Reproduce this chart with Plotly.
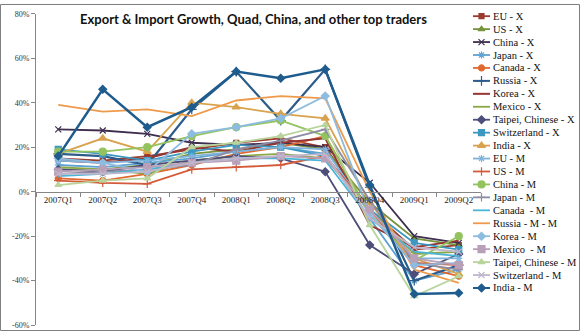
import plotly.graph_objects as go

W, H = 580, 336

QUARTERS = ["2007Q1", "2007Q2", "2007Q3", "2007Q4", "2008Q1", "2008Q2",
            "2008Q3", "2008Q4", "2009Q1", "2009Q2"]

Y_TICK_VALUES = [-60, -40, -20, 0, 20, 40, 60, 80]
Y_TICK_LABELS = ["-60%", "-40%", "-20%", "0%", "20%", "40%", "60%", "80%"]

SERIES_NAMES = ["EU - X", "US - X", "China - X", "Japan - X", "Canada - X",
                "Russia - X", "Korea - X", "Mexico - X", "Taipei, Chinese - X",
                "Switzerland - X", "India - X", "EU - M", "US - M", "China - M",
                "Japan - M", "Canada  - M", "Russia - M - M", "Korea - M",
                "Mexico  - M", "Taipei, Chinese - M", "Switzerland - M", "India - M"]

# growth rates in percent, one list per series
EU_X = [15, 14, 16, 19, 22, 24, 20, -8, -26, -24]
US_X = [10, 10, 12, 17, 19, 22, 19, -5, -21, -24]
CHINA_X = [28, 27.5, 26, 22, 21, 22, 20, 4, -20, -23]
JAPAN_X = [12, 11, 13, 15, 18, 20, 17, -12, -40, -35]
CANADA_X = [6, 5, 8, 12, 17, 20, 25, -10, -33, -38]
RUSSIA_X = [17, 16, 12, 37, 54, 32, 55, 2, -40, -33]
KOREA_X = [14, 13, 15, 20, 18, 22, 24, -15, -25, -22]
MEXICO_X = [11, 10, 8, 14, 16, 17, 15, -8, -28, -27]
TAIPEI_X = [10, 9, 12, 14, 16, 15, 9, -24, -37, -28]
SWITZERLAND_X = [19, 17, 14, 18, 21, 20, 16, -8, -23, -26]
INDIA_X = [17, 24, 18, 40, 38, 35, 33, -5, -30, -37]
EU_M = [14, 13, 14, 16, 18, 20, 19, -10, -30, -30]
US_M = [5, 4, 3.5, 10, 11, 12, 16, -8, -32, -33]
CHINA_M = [18, 18, 20, 25, 29, 32, 25, -10, -31, -20]
JAPAN_M = [8, 9, 10, 12, 19, 23, 28, -4, -32, -35]
CANADA_M = [7, 8, 10, 13, 15, 15, 14, -12, -27, -29]
RUSSIA_M = [39, 36, 37, 34, 41, 43, 42, 0, -35, -41]
KOREA_M = [15, 13, 9, 26, 29, 33, 43, -10, -33, -32]
MEXICO_M = [9, 10, 11, 13, 14, 16, 15, -8, -30, -33]
TAIPEI_M = [3, 5, 6, 20, 22, 25, 30, -15, -47, -38]
SWITZERLAND_M = [8, 8, 9, 13, 15, 16, 17, -12, -25, -27]
INDIA_M = [16, 46, 29, 38, 54, 51, 55, 3, -46, -45.5]

SERIES_VALUES = [EU_X, US_X, CHINA_X, JAPAN_X, CANADA_X, RUSSIA_X, KOREA_X,
                 MEXICO_X, TAIPEI_X, SWITZERLAND_X, INDIA_X, EU_M, US_M, CHINA_M,
                 JAPAN_M, CANADA_M, RUSSIA_M, KOREA_M, MEXICO_M, TAIPEI_M,
                 SWITZERLAND_M, INDIA_M]

# styles: (color, marker symbol or None, line width, marker size)
STYLES = [
    ("#9B3B2F", "square", 1.8, 5),
    ("#77933C", "triangle-up", 1.8, 6),
    ("#3E2F4F", "x-thin-open", 1.8, 6),
    ("#5FA3D3", "asterisk-open", 1.8, 6),
    ("#E0692F", "circle", 1.8, 6),
    ("#2C5C8A", "cross-thin-open", 2.2, 7),
    ("#943634", None, 2.0, 0),
    ("#8AA845", None, 1.8, 0),
    ("#4D4F7A", "diamond", 1.8, 6),
    ("#3C98C0", "square", 1.8, 6),
    ("#D9A24E", "triangle-up", 1.8, 7),
    ("#7FB3DA", "asterisk-open", 1.8, 6),
    ("#D45A3A", "cross-thin-open", 1.8, 6),
    ("#93C35E", "circle", 1.8, 7),
    ("#8E8CA5", "cross-thin-open", 1.8, 6),
    ("#4BB5D6", None, 1.8, 0),
    ("#EF9A4A", None, 1.8, 0),
    ("#8DBCE0", "diamond", 1.8, 6),
    ("#B8A0B8", "square", 1.8, 7),
    ("#B8D49A", "triangle-up", 1.8, 6),
    ("#C0B6CC", "x-thin-open", 1.8, 6),
    ("#1F5C8E", "diamond", 2.5, 6),
]

# plot area in pixels
PL, PR, PT, PB = 36, 481, 10, 330
ymin, ymax = -60, 80

fig = go.Figure()

for name, vals, (col, sym, lw, ms) in zip(SERIES_NAMES, SERIES_VALUES, STYLES):
    mode = "lines+markers" if sym else "lines"
    marker = dict(symbol=sym, size=ms, color=col, line=dict(color=col, width=1.2)) if sym else None
    fig.add_trace(go.Scatter(x=QUARTERS, y=vals, name=name, mode=mode,
                             line=dict(color=col, width=lw), marker=marker,
                             showlegend=False, xaxis="x", yaxis="y"))

# custom legend drawn on an overlay axis in pixel units
LEG_X0, LEG_X1, LEG_Y0, LEG_DY = 473, 490, 12.5, 13.3
for i, (name, (col, sym, lw, ms)) in enumerate(zip(SERIES_NAMES, STYLES)):
    yy = LEG_Y0 + i * LEG_DY
    xm = (LEG_X0 + LEG_X1) / 2
    fig.add_trace(go.Scatter(x=[LEG_X0, xm, LEG_X1], y=[yy, yy, yy], mode="lines",
                             line=dict(color=col, width=min(lw, 2.0)),
                             showlegend=False, hoverinfo="skip", xaxis="x2", yaxis="y2"))
    if sym:
        fig.add_trace(go.Scatter(x=[xm], y=[yy], mode="markers",
                                 marker=dict(symbol=sym, size=ms, color=col,
                                             line=dict(color=col, width=1.2)),
                                 showlegend=False, hoverinfo="skip", xaxis="x2", yaxis="y2"))
    fig.add_annotation(x=LEG_X1 + 0.5, y=yy, xref="x2", yref="y2", text=name,
                       showarrow=False, xanchor="left", yanchor="middle",
                       font=dict(family="Liberation Serif", size=10.5, color="#111111"))

zero_frac = (H - PB) / H + ((PB - PT) / H) * ((0 - ymin) / (ymax - ymin))

fig.update_layout(
    width=W, height=H, margin=dict(l=0, r=0, t=0, b=0),
    paper_bgcolor="white", plot_bgcolor="rgba(0,0,0,0)",
    title=dict(text="<b>Export & Import Growth, Quad, China, and other top traders</b>",
               x=0.437, xanchor="center", y=1 - 19 / H, yanchor="middle",
               font=dict(family="Lato", size=13, color="#111111")),
    xaxis=dict(domain=[PL / W, PR / W], type="category", range=[-0.5, 9.5],
               anchor="free", position=zero_frac, showgrid=False, zeroline=False,
               showline=True, linecolor="#868686", linewidth=1,
               ticks="outside", tickson="boundaries", ticklen=4, tickcolor="#868686",
               tickfont=dict(family="Liberation Serif", size=9, color="#222222")),
    yaxis=dict(domain=[(H - PB) / H, (H - PT) / H], range=[ymin, ymax], anchor="x",
               tickvals=Y_TICK_VALUES, ticktext=Y_TICK_LABELS,
               showgrid=False, zeroline=False, showline=True, linecolor="#868686",
               linewidth=1, ticks="outside", ticklen=4, tickcolor="#868686",
               tickfont=dict(family="Liberation Serif", size=8, color="#333333")),
    xaxis2=dict(domain=[0, 1], range=[0, W], visible=False, fixedrange=True, anchor="y2"),
    yaxis2=dict(domain=[0, 1], range=[H, 0], visible=False, fixedrange=True, anchor="x2"),
    shapes=[dict(type="rect", xref="paper", yref="paper",
                 x0=0.5 / W, x1=1 - 0.5 / W, y0=0.5 / H, y1=1 - 0.5 / H,
                 line=dict(color="#7F7F7F", width=1))],
)

fig.write_html("out.html")
